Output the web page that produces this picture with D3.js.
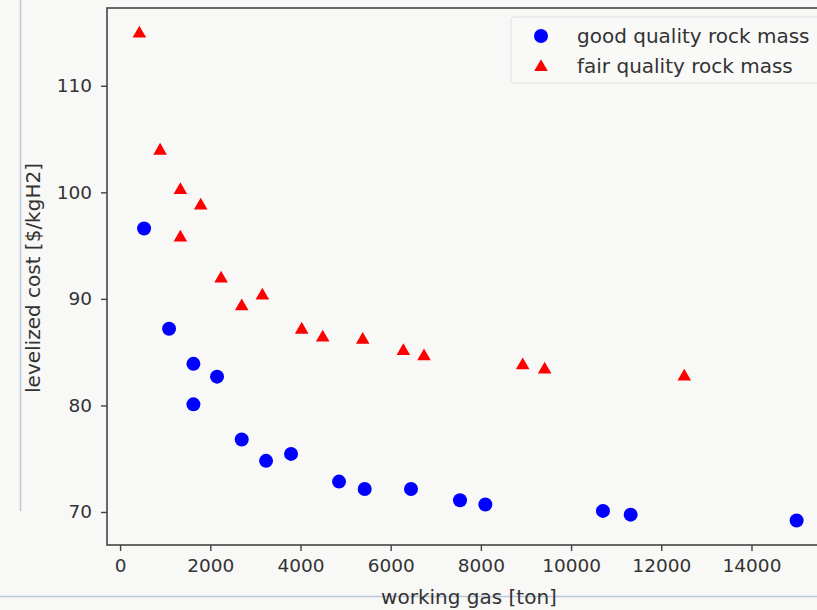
<!DOCTYPE html>
<html>
<head>
<meta charset="utf-8">
<script src="https://cdn.jsdelivr.net/npm/d3@7"></script>
<style>
  body { margin: 0; background: #f8f8f6; overflow: hidden; }
  svg { display: block; font-family: "DejaVu Sans", sans-serif; }
</style>
</head>
<body>
<div id="scatter"></div>
<script>
// values
var goodX = [532, 1086, 1626, 1626, 2150, 2697, 3237, 3791, 4855, 5424, 6451, 7537, 8099, 10707, 11321, 15001];
var goodY = [96.6, 87.2, 83.9, 80.1, 82.7, 76.8, 74.8, 75.45, 72.85, 72.15, 72.15, 71.1, 70.7, 70.1, 69.75, 69.2];
var fairX = [428, 887, 1337, 1788, 1337, 2239, 2697, 3155, 4027, 4493, 5380, 6281, 6739, 8927, 9414, 12510];
var fairY = [115.0, 104.0, 100.3, 98.85, 95.85, 92.0, 89.4, 90.4, 87.2, 86.45, 86.25, 85.2, 84.7, 83.85, 83.45, 82.8];
var xTicks = [0, 2000, 4000, 6000, 8000, 10000, 12000, 14000];
var yTicks = [70, 80, 90, 100, 110];
var seriesNames = ["good quality rock mass", "fair quality rock mass"];

var W = 817, H = 610;
var plotL = 107, plotT = 8, plotB = 545, plotR = 829.5;

var svg = d3.select("#scatter")
  .append("svg")
    .attr("width", W)
    .attr("height", H);

// notebook frame lines
svg.append("line")
  .attr("x1", 20.5).attr("x2", 20.5).attr("y1", 0).attr("y2", 511)
  .style("stroke", "#bcc8d8").style("stroke-width", 1.5);
svg.append("line")
  .attr("x1", 0).attr("x2", W).attr("y1", 596.5).attr("y2", 596.5)
  .style("stroke", "#bcc8d8").style("stroke-width", 1.5);

var xScale = d3.scaleLinear().domain([-290, 15730]).range([plotL, plotR]),
    yScale = d3.scaleLinear().domain([66.9, 117.3]).range([plotB, plotT]);

// frame
svg.append("rect")
  .attr("x", plotL).attr("y", plotT)
  .attr("width", plotR - plotL).attr("height", plotB - plotT)
  .style("fill", "none").style("stroke", "#444").style("stroke-width", 1.6);

var xAxis = svg.append("g")
  .attr("transform", "translate(0," + plotB + ")")
  .call(d3.axisBottom(xScale).tickValues(xTicks).tickSize(6).tickPadding(8).tickFormat(d3.format("d")));
var yAxis = svg.append("g")
  .attr("transform", "translate(" + plotL + ",0)")
  .call(d3.axisLeft(yScale).tickValues(yTicks).tickSize(6).tickPadding(9).tickFormat(d3.format("d")));

[xAxis, yAxis].forEach(function (ax) {
  ax.select(".domain").remove();
  ax.selectAll(".tick line").style("stroke", "#444").style("stroke-width", 1.4);
  ax.selectAll(".tick text")
    .style("font-family", "DejaVu Sans")
    .style("font-size", "18.5px")
    .style("fill", "#333");
});

// axis labels
svg.append("text")
  .attr("x", 469)
  .attr("y", 604)
  .attr("text-anchor", "middle")
  .style("font-size", "20px")
  .style("fill", "#333")
  .text("working gas [ton]");

svg.append("text")
  .attr("text-anchor", "middle")
  .attr("transform", "translate(40,278) rotate(-90)")
  .style("font-size", "20px")
  .style("fill", "#333")
  .text("levelized cost [$/kgH2]");

var good = goodX.map(function (x, i) { return [x, goodY[i]]; });
var fair = fairX.map(function (x, i) { return [x, fairY[i]]; });

svg.append("g")
  .selectAll("circle")
  .data(good)
  .enter()
  .append("circle")
    .attr("cx", function (d) { return xScale(d[0]); })
    .attr("cy", function (d) { return yScale(d[1]); })
    .attr("r", 7)
    .style("fill", "#0000ff");

var tri = d3.symbol().type(d3.symbolTriangle).size(80);
svg.append("g")
  .selectAll("path")
  .data(fair)
  .enter()
  .append("path")
    .attr("d", tri)
    .attr("transform", function (d) { return "translate(" + xScale(d[0]) + "," + (yScale(d[1]) + 1) + ")"; })
    .style("fill", "#ff0000");

// legend
var lg = svg.append("g");
lg.append("rect")
  .attr("x", 511).attr("y", 17).attr("width", 330).attr("height", 66).attr("rx", 3)
  .style("fill", "#f9f9f8").style("stroke", "#e0e0e0").style("stroke-width", 1);
lg.append("circle").attr("cx", 541).attr("cy", 36).attr("r", 7).style("fill", "#0000ff");
lg.append("path").attr("d", tri).attr("transform", "translate(541,67)").style("fill", "#ff0000");
lg.selectAll("text.lbl")
  .data(seriesNames)
  .enter()
  .append("text")
    .attr("class", "lbl")
    .attr("x", 577)
    .attr("y", function (d, i) { return 36 + i * 30; })
    .attr("dy", "0.35em")
    .style("font-size", "20px")
    .style("fill", "#333")
    .text(function (d) { return d; });
</script>
</body>
</html>
